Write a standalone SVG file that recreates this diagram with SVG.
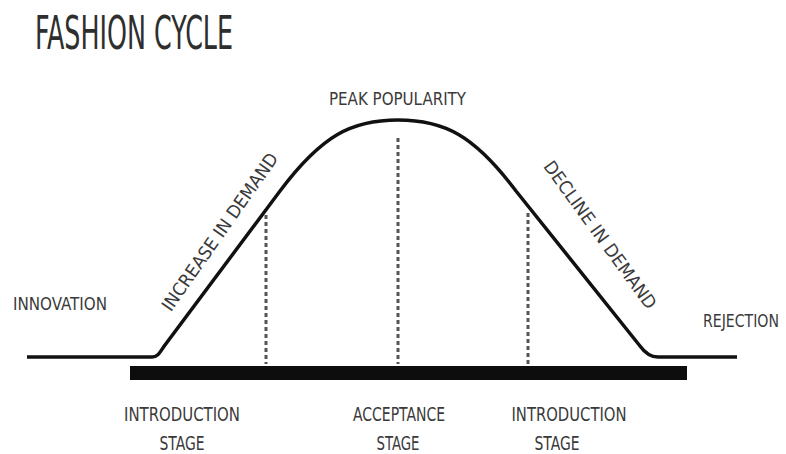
<svg xmlns="http://www.w3.org/2000/svg" width="786" height="454" viewBox="0 0 786 454">
  <style>
    text { font-family: "DejaVu Sans Condensed", "Liberation Sans", sans-serif; fill: #3a3a3a; }
    .title { font-size: 46px; fill: #2e2e2e; }
    .lbl { font-size: 18px; }
    .stage { font-size: 19px; text-anchor: middle; }
    .curve { fill: none; stroke: #111; stroke-width: 3.5; stroke-linejoin: round; }
    .dash { stroke: #555; stroke-width: 3; stroke-dasharray: 4 3; fill: none; }
  </style>
  <rect width="786" height="454" fill="#ffffff"/>

  <g id="title">
    <text class="title" x="35" y="49" textLength="198" lengthAdjust="spacingAndGlyphs">FASHION CYCLE</text>
  </g>

  <g id="connectors">
    <!-- popularity curve -->
    <path class="curve" d="M 27 357 L 152 357 C 158 357 160 352 165 345 L 280 191 C 322 135 352 120 398 120 C 444 120 474 135 516 191 L 640 346 C 645 353 650 357 658 357 L 737 357"/>
    <!-- stage dividers -->
    <line class="dash" x1="266" y1="215" x2="266" y2="364"/>
    <line class="dash" x1="398" y1="138" x2="398" y2="364"/>
    <line class="dash" x1="528" y1="213" x2="528" y2="364"/>
  </g>

  <g id="timeline">
    <rect x="130" y="366" width="557" height="14" fill="#0d0d0d"/>
  </g>

  <g id="peak">
    <text class="lbl" x="329" y="105" textLength="137" lengthAdjust="spacingAndGlyphs">PEAK POPULARITY</text>
  </g>
  <g id="innovation">
    <text class="lbl" x="13" y="310" textLength="94" lengthAdjust="spacingAndGlyphs">INNOVATION</text>
  </g>
  <g id="rejection">
    <text transform="translate(703,327) scale(1,1.2)" x="0" y="0" style="font-size:15px" textLength="76" lengthAdjust="spacingAndGlyphs">REJECTION</text>
  </g>
  <g id="increase">
    <text class="lbl" transform="translate(220,232) rotate(-55)" x="0" y="6" text-anchor="middle" textLength="188" lengthAdjust="spacingAndGlyphs">INCREASE IN DEMAND</text>
  </g>
  <g id="decline">
    <text class="lbl" transform="translate(600,235) rotate(54)" x="0" y="6" text-anchor="middle" textLength="178" lengthAdjust="spacingAndGlyphs">DECLINE IN DEMAND</text>
  </g>

  <g id="stage-intro-1">
    <text class="stage" x="182" y="421" textLength="116" lengthAdjust="spacingAndGlyphs">INTRODUCTION</text>
    <text class="stage" x="182" y="450" textLength="45" lengthAdjust="spacingAndGlyphs">STAGE</text>
  </g>
  <g id="stage-acceptance">
    <text class="stage" x="399" y="421" textLength="92" lengthAdjust="spacingAndGlyphs">ACCEPTANCE</text>
    <text class="stage" x="398" y="450" textLength="43" lengthAdjust="spacingAndGlyphs">STAGE</text>
  </g>
  <g id="stage-intro-2">
    <text class="stage" x="569" y="421" textLength="115" lengthAdjust="spacingAndGlyphs">INTRODUCTION</text>
    <text class="stage" x="557" y="450" textLength="45" lengthAdjust="spacingAndGlyphs">STAGE</text>
  </g>
</svg>
